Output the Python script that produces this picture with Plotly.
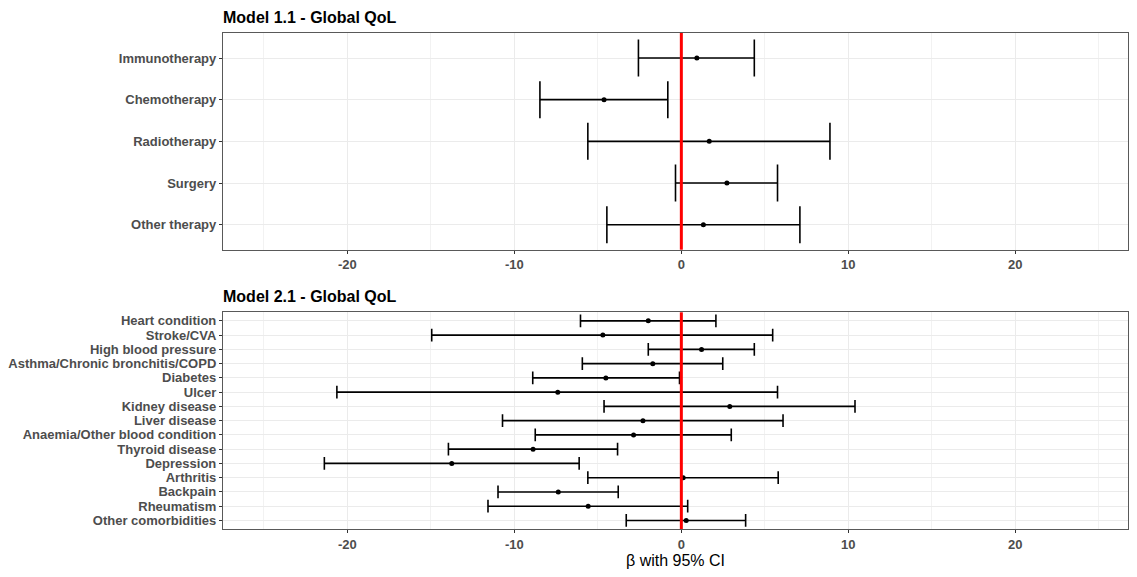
import plotly.graph_objects as go
from plotly.subplots import make_subplots

top_labels = ["Immunotherapy", "Chemotherapy", "Radiotherapy", "Surgery", "Other therapy"]
top_est = [0.93, -4.63, 1.67, 2.73, 1.32]
top_lo = [-2.57, -8.47, -5.60, -0.35, -4.46]
top_hi = [4.37, -0.81, 8.90, 5.76, 7.10]

bot_labels = ["Heart condition", "Stroke/CVA", "High blood pressure",
              "Asthma/Chronic bronchitis/COPD", "Diabetes", "Ulcer", "Kidney disease",
              "Liver disease", "Anaemia/Other blood condition", "Thyroid disease",
              "Depression", "Arthritis", "Backpain", "Rheumatism", "Other comorbidities"]
bot_est = [-1.98, -4.70, 1.21, -1.71, -4.52, -7.40, 2.90, -2.30, -2.86, -8.88,
           -13.75, 0.11, -7.37, -5.58, 0.29]
bot_lo = [-6.04, -14.95, -1.98, -5.93, -8.90, -20.63, -4.63, -10.71, -8.75, -13.95,
          -21.38, -5.60, -10.98, -11.58, -3.30]
bot_hi = [2.07, 5.47, 4.37, 2.48, -0.11, 5.76, 10.40, 6.09, 2.99, -3.82,
          -6.12, 5.80, -3.78, 0.38, 3.85]

titles = ["Model 1.1 - Global QoL", "Model 2.1 - Global QoL"]
x_title = "β with 95% CI"
x_ticks = [-20, -10, 0, 10, 20]

# page body has an 8px margin on every side; keep the figure inside the viewport
OFF = 8
W, H = 1137 - 2 * OFF, 577 - 2 * OFF
L = 221 - OFF
T = 33 - OFF
plot_bottom = 532 - OFF
B = H - plot_bottom
R = 0
plot_h = H - T - B
top_dom = [(532 - 251) / plot_h, 1.0]
bot_dom = [0.0, (532 - 314) / plot_h]

fig = make_subplots(rows=2, cols=1)

panels = [
    (top_labels, top_est, top_lo, top_hi, 18.5, 1),
    (bot_labels, bot_est, bot_lo, bot_hi, 6.4, 2),
]

xr = [-27.45, 26.75]
tick_font = dict(family="Liberation Sans", size=13, color="#4d4d4d", weight="bold")

for labels, est, lo, hi, capw, row in panels:
    plus = [h - e for h, e in zip(hi, est)]
    minus = [e - l for e, l in zip(est, lo)]
    fig.add_trace(go.Scatter(
        x=est, y=labels, mode="markers",
        marker=dict(color="rgba(0,0,0,0)", size=1),
        error_x=dict(type="data", symmetric=False, array=plus, arrayminus=minus,
                     color="black", thickness=1.6, width=capw),
        showlegend=False, hoverinfo="skip"), row=row, col=1)
    fig.add_trace(go.Scatter(
        x=est, y=labels, mode="markers",
        marker=dict(color="black", size=5),
        showlegend=False), row=row, col=1)
    n = len(labels)
    fig.update_yaxes(type="category", categoryorder="array", categoryarray=labels,
                     range=[n - 1 + 0.6, -0.6],
                     tickmode="array", tickvals=labels, ticktext=labels,
                     showgrid=True, gridcolor="#ebebeb", gridwidth=1.2,
                     ticks="outside", ticklen=3, tickcolor="#333333",
                     showline=True, linecolor="#595959", linewidth=1.2, mirror=True,
                     zeroline=False, tickfont=tick_font,
                     row=row, col=1)
    fig.update_xaxes(range=xr, tickvals=x_ticks, ticktext=[str(v) for v in x_ticks],
                     showgrid=True, gridcolor="#ebebeb", gridwidth=1.2,
                     minor=dict(tickvals=[-25, -15, -5, 5, 15, 25], showgrid=True,
                                gridcolor="#f2f2f2", gridwidth=0.8),
                     ticks="outside", ticklen=3, tickcolor="#333333",
                     showline=True, linecolor="#595959", linewidth=1.2, mirror=True,
                     zeroline=False, tickfont=tick_font,
                     row=row, col=1)

fig.update_yaxes(domain=top_dom, row=1, col=1)
fig.update_yaxes(domain=bot_dom, row=2, col=1)
fig.update_xaxes(title=dict(text=x_title, font=dict(family="Liberation Sans", size=16, color="black"),
                            standoff=6), row=2, col=1)

for i, t in enumerate(titles):
    yref = "y domain" if i == 0 else "y2 domain"
    fig.add_annotation(text="<b>" + t + "</b>", x=0, y=1, xref="paper", yref=yref,
                       xanchor="left", yanchor="bottom", yshift=5, xshift=-2, showarrow=False,
                       font=dict(family="Liberation Sans", size=16, color="black"))
    fig.add_shape(type="line", x0=0, x1=0, y0=0, y1=1, xref="x" if i == 0 else "x2",
                  yref=yref, line=dict(color="#ff0000", width=3), layer="above")

fig.update_layout(width=W, height=H, margin=dict(l=L, r=R, t=T, b=B),
                  plot_bgcolor="white", paper_bgcolor="white")

fig.write_html("out.html")
